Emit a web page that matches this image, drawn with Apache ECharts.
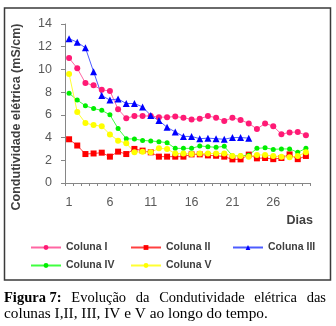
<!DOCTYPE html>
<html><head><meta charset="utf-8">
<script src="https://cdn.jsdelivr.net/npm/echarts@6/dist/echarts.min.js"></script>
<style>html,body{margin:0;padding:0;background:#fff}#c{width:336px;height:326px}</style>
</head><body><div id="c"></div>
<script>
var days = ['1','2','3','4','5','6','7','8','9','10','11','12','13','14','15','16','17','18','19','20','21','22','23','24','25','26','27','28','29','30'];
var colunaI = [11.0,10.1,8.8,8.6,8.2,8.1,6.5,5.7,5.9,5.9,5.9,5.8,5.8,5.85,5.75,5.6,5.65,5.9,5.75,5.45,5.75,5.55,5.25,4.75,5.25,5.0,4.3,4.45,4.5,4.2];
var colunaII = [3.85,3.3,2.55,2.6,2.67,2.32,2.76,2.55,3.0,2.85,2.7,2.32,2.32,2.32,2.32,2.52,2.52,2.43,2.4,2.32,2.08,2.08,2.5,2.17,2.2,2.1,2.2,2.52,2.1,2.38];
var colunaIII = [12.7,12.4,11.9,9.8,7.7,7.3,7.4,7.0,7.0,6.7,5.95,5.5,4.9,4.5,4.1,4.1,3.9,3.95,3.9,3.85,4.0,4.0,3.95];
var colunaIV = [7.9,7.3,6.8,6.55,6.4,6.0,4.8,3.9,3.87,3.75,3.7,3.64,3.55,3.05,3.05,3.05,3.26,3.2,3.14,3.23,2.4,2.4,2.45,3.05,3.1,2.96,3.0,3.0,2.7,3.05];
var colunaV = [9.6,6.25,5.28,5.1,5.0,4.28,3.73,3.5,2.7,2.75,2.7,3.05,3.0,2.6,2.6,2.55,2.6,2.6,2.6,2.6,2.38,2.38,2.32,2.47,2.47,2.38,2.32,2.26,2.38,2.7];
var yTicks = {min:0, max:14, interval:2};
var names = ['Coluna I','Coluna II','Coluna III','Coluna IV','Coluna V'];

var chart = echarts.init(document.getElementById('c'), null, {renderer:'canvas'});
function ser(name, data, color, lineColor, symbol, size){
  return {name:name, type:'line', data:data, symbol:symbol, symbolSize:size, showAllSymbol:true,
    itemStyle:{color:color}, lineStyle:{color:lineColor, width:1}, animation:false};
}
var legendFont = {fontFamily:'Liberation Sans', fontSize:10.5, fontWeight:'bold', color:'#404040'};
function leg(name, left, top){
  return {data:[name], left:left, top:top, padding:0, itemWidth:30, itemHeight:6, itemGap:0, textStyle:legendFont, selectedMode:false};
}
var serif = 'Liberation Serif';
var cap1 = [['Figura 7:','bold'],['Evolução','normal'],['da','normal'],['Condutividade','normal'],['elétrica','normal'],['das','normal']];
var graphics = [
  {type:'rect', shape:{x:4.5,y:8,width:326,height:272}, style:{fill:'none', stroke:'#3a3a3a', lineWidth:1.5}},
  {type:'text', x:17, y:117, rotation:Math.PI/2, style:{text:'Condutividade elétrica (mS/cm)', font:'bold 12.5px "Liberation Sans"', fill:'#404040', align:'center', verticalAlign:'middle'}},
  {type:'text', x:313, y:221, style:{text:'Dias', font:'bold 12.5px "Liberation Sans"', fill:'#404040', align:'right', verticalAlign:'middle'}},
  {type:'text', x:4, y:314, style:{text:'colunas I,II, III, IV e V ao longo do tempo.', font:'15.3px "'+serif+'"', fill:'#000', align:'left', verticalAlign:'middle'}}
];
// justify first caption line between x=4 and x=326
var ctx = document.createElement('canvas').getContext('2d');
var fonts = cap1.map(function(w){ return w[1]+' 14.5px "'+serif+'"'; });
var widths = cap1.map(function(w,i){ ctx.font = fonts[i]; return ctx.measureText(w[0]).width; });
var total = widths.reduce(function(a,b){return a+b;},0);
var gap = (322 - total) / (cap1.length - 1);
var xpos = 4;
cap1.forEach(function(w,i){
  graphics.push({type:'text', x:xpos, y:298, style:{text:w[0], font:fonts[i], fill:'#000', align:'left', verticalAlign:'middle'}});
  xpos += widths[i] + gap;
});
chart.setOption({
  backgroundColor:'#fff',
  animation:false,
  grid:{left:65, right:26, top:24, bottom:143},
  xAxis:{type:'category', data:days, boundaryGap:true,
    axisLine:{lineStyle:{color:'#868686'}},
    axisTick:{show:true, interval:0, length:3, lineStyle:{color:'#868686'}},
    axisLabel:{interval:4, color:'#595959', fontFamily:'Liberation Sans', fontSize:12.5, margin:13}},
  yAxis:{type:'value', min:yTicks.min, max:yTicks.max, interval:yTicks.interval,
    axisLine:{show:true, lineStyle:{color:'#868686'}},
    axisTick:{show:true, length:4, lineStyle:{color:'#868686'}},
    splitLine:{show:false},
    axisLabel:{color:'#595959', fontFamily:'Liberation Sans', fontSize:12.5, margin:13}},
  legend:[leg(names[0],30,242), leg(names[1],130,242), leg(names[2],232,242), leg(names[3],30,260), leg(names[4],130,260)],
  series:[
    ser(names[0], colunaI, '#ff1a75', '#ff66a3', 'circle', 6),
    ser(names[1], colunaII, '#ff0000', '#ff4040', 'rect', 6),
    ser(names[2], colunaIII, '#0000ff', '#4d5cff', 'triangle', 7),
    ser(names[3], colunaIV, '#00ee00', '#40ff40', 'circle', 5),
    ser(names[4], colunaV, '#ffff00', '#ffff33', 'circle', 6)
  ],
  graphic:graphics
});
</script></body></html>
